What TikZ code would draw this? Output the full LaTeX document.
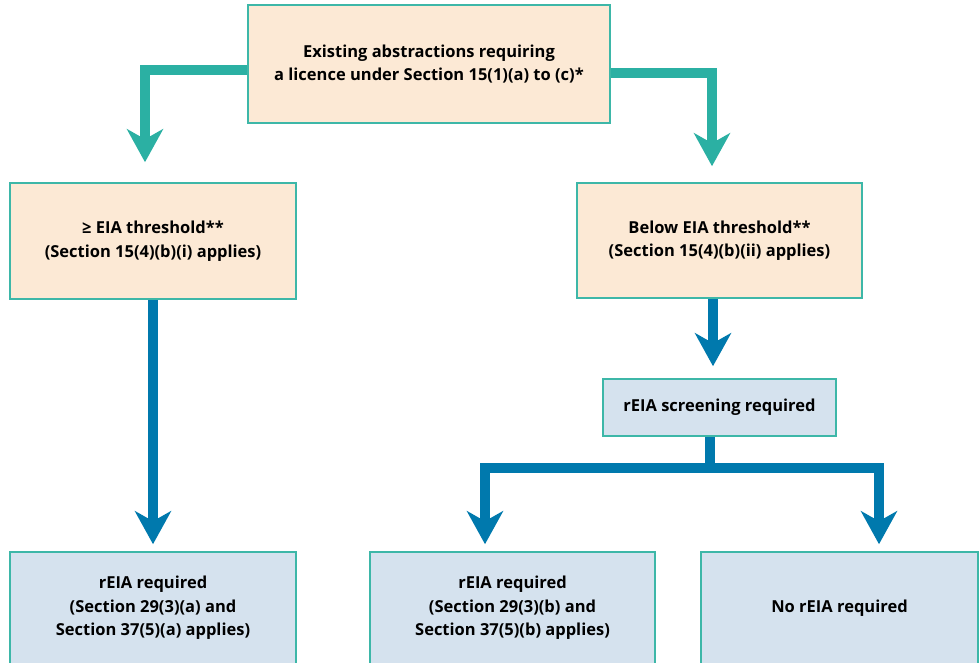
\documentclass[tikz,border=0pt]{standalone}
\usepackage{fontspec}
\setmainfont{Open Sans}
\usepackage{xcolor}
\usepackage{tikz}
\usetikzlibrary{arrows.meta, calc, positioning}

\definecolor{peach}{HTML}{FCE9D5}
\definecolor{paleblue}{HTML}{D5E2EE}
\definecolor{tealline}{HTML}{3DB7A8}
\definecolor{tealarrow}{HTML}{2BB0A3}
\definecolor{bluearrow}{HTML}{0079AD}

\begin{document}
\begin{tikzpicture}[x=1pt, y=-1pt, font=\bfseries\fontsize{16.5}{23.5}\selectfont,
  tarro/.style = {draw=tealarrow, line width=9.5pt, line join=miter, -{Stealth[length=33pt, width=36pt, inset=10pt]}},
  barro/.style = {draw=bluearrow, line width=9.5pt, line join=miter, -{Stealth[length=33pt, width=36pt, inset=10pt]}},
  bline/.style = {draw=bluearrow, line width=9.5pt}]

\tikzstyle{warm} = [draw=tealline, line width=1.6pt, fill=peach, align=center, inner sep=0pt]
\tikzstyle{cool} = [draw=tealline, line width=1.6pt, fill=paleblue, align=center, inner sep=0pt]

\useasboundingbox (0,0) rectangle (980,662);

% start
\node[warm, minimum width=362pt, minimum height=118pt] at (429,64) (top)
  {Existing abstractions requiring\\a licence under Section 15(1)(a) to (c)*};
% thresholds
\node[warm, minimum width=286pt, minimum height=116pt] at (153,241) (thrhi)
  {≥ EIA threshold**\\(Section 15(4)(b)(i) applies)};
\node[warm, minimum width=285pt, minimum height=115pt] at (719.5,240.5) (thrlo)
  {Below EIA threshold**\\(Section 15(4)(b)(ii) applies)};
% connections
\draw[tarro] ([yshift=-6pt]top.west) -| ([xshift=-8pt, yshift=20pt]thrhi.north);
\draw[tarro] ([yshift=-9pt]top.east) -| ([xshift=-7.5pt, yshift=16pt]thrlo.north);
% screening
\node[cool, minimum width=233pt, minimum height=57pt] at (719.5,407.5) (screen)
  {rEIA screening required};
\draw[barro] ([xshift=-6.5pt]thrlo.south) -- ([xshift=-6.5pt, yshift=12pt]screen.north);
% outcomes
\node[cool, minimum width=286pt, minimum height=112pt] at (153,608) (reqa)
  {rEIA required\\(Section 29(3)(a) and\\Section 37(5)(a) applies)};
\node[cool, minimum width=285pt, minimum height=112pt] at (512.5,608) (reqb)
  {rEIA required\\(Section 29(3)(b) and\\Section 37(5)(b) applies)};
\node[cool, minimum width=277pt, minimum height=112pt] at (839.5,608) (noreq)
  {No rEIA required};
% connections
\draw[barro] (thrhi.south) -- ([yshift=7pt]reqa.north);
\coordinate (split) at (710,468);
\draw[bline] ([xshift=-9.5pt]screen.south) -- (split);
\draw[barro] (split) -| ([xshift=-27.5pt, yshift=7pt]reqb.north);
\draw[barro] (split) -| ([xshift=39.5pt, yshift=7pt]noreq.north);
\end{tikzpicture}
\end{document}
